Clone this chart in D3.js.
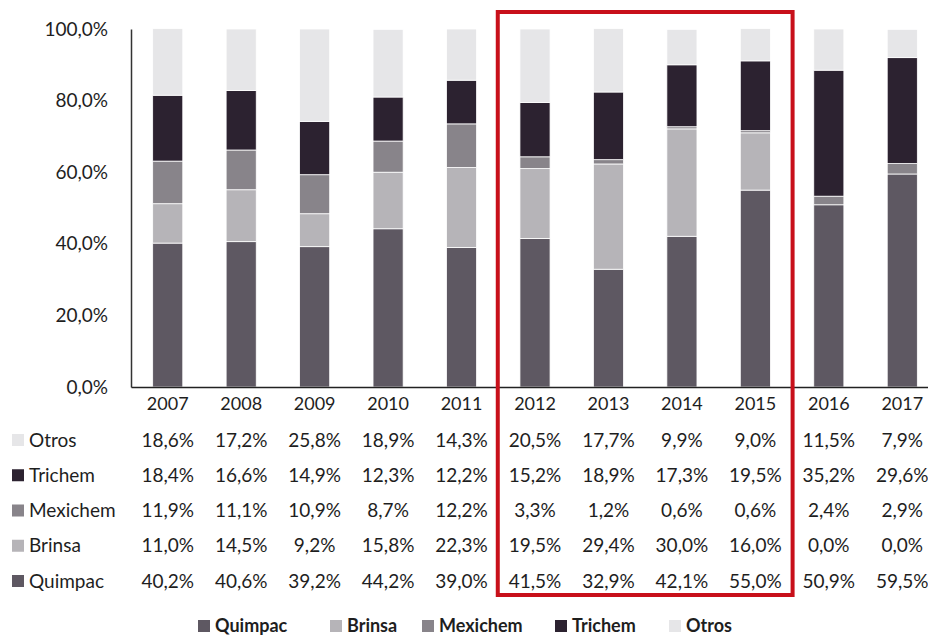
<!DOCTYPE html>
<html>
<head>
<meta charset="utf-8">
<script src="https://cdn.jsdelivr.net/npm/d3@7"></script>
<style>
  body { margin: 0; background: #fff; }
  text { font-family: Lato, "Open Sans", sans-serif; fill: #1e1e1e; }
</style>
</head>
<body>
<div id="chart"></div>
<script>
// data
const years = ["2007", "2008", "2009", "2010", "2011", "2012", "2013", "2014", "2015", "2016", "2017"];
const seriesNames = ["Quimpac", "Brinsa", "Mexichem", "Trichem", "Otros"];
const quimpac  = [40.2, 40.6, 39.2, 44.2, 39.0, 41.5, 32.9, 42.1, 55.0, 50.9, 59.5];
const brinsa   = [11.0, 14.5, 9.2, 15.8, 22.3, 19.5, 29.4, 30.0, 16.0, 0.0, 0.0];
const mexichem = [11.9, 11.1, 10.9, 8.7, 12.2, 3.3, 1.2, 0.6, 0.6, 2.4, 2.9];
const trichem  = [18.4, 16.6, 14.9, 12.3, 12.2, 15.2, 18.9, 17.3, 19.5, 35.2, 29.6];
const otros    = [18.6, 17.2, 25.8, 18.9, 14.3, 20.5, 17.7, 9.9, 9.0, 11.5, 7.9];
const yTicks = [0, 20, 40, 60, 80, 100];
const highlightYears = ["2012", "2015"];

const seriesValues = { Quimpac: quimpac, Brinsa: brinsa, Mexichem: mexichem, Trichem: trichem, Otros: otros };
const colors = { Quimpac: "#5e5862", Brinsa: "#b6b4b8", Mexichem: "#88848a", Trichem: "#2c2230", Otros: "#e6e6e8" };

const W = 928, H = 640;
const plot = { left: 131, right: 939, top: 29, bottom: 387 };

const svg = d3.select("#chart").append("svg")
  .attr("width", W).attr("height", H);

const x = d3.scaleBand()
  .domain(years)
  .range([plot.left, plot.right])
  .paddingInner(0.59)
  .paddingOuter(0.295);

const y = d3.scaleLinear().domain([0, 100]).range([plot.bottom, plot.top]);

const fmt = v => v.toFixed(1).replace(".", ",") + "%";

// stacked bars
const table = years.map((yr, i) => {
  const row = { year: yr };
  seriesNames.forEach(s => row[s] = seriesValues[s][i]);
  return row;
});
const stacked = d3.stack().keys(seriesNames)(table);

svg.append("g")
  .selectAll("g")
  .data(stacked)
  .join("g")
    .attr("fill", d => colors[d.key])
  .selectAll("rect")
  .data(d => d)
  .join("rect")
    .attr("x", d => x(d.data.year))
    .attr("width", x.bandwidth())
    .attr("y", d => y(d[1]))
    .attr("height", d => Math.max(0, y(d[0]) - y(d[1])))
    .attr("stroke", "#fff")
    .attr("stroke-width", 0.8);

// y axis
const yAxis = svg.append("g")
  .attr("transform", `translate(${plot.left},0)`)
  .call(d3.axisLeft(y).tickValues(yTicks).tickSize(0).tickPadding(23)
    .tickFormat(d => fmt(d)));
yAxis.select(".domain").attr("stroke", "#333").attr("stroke-width", 1.5);
yAxis.selectAll("text").style("font-size", "19px").attr("font-family", null);

// x axis
const xAxis = svg.append("g")
  .attr("transform", `translate(0,${plot.bottom})`)
  .call(d3.axisBottom(x).tickSize(0).tickPadding(10));
xAxis.select(".domain").attr("stroke", "#222").attr("stroke-width", 1.5);
xAxis.selectAll("text").style("font-size", "18px").attr("font-family", null);

// data table under the chart
const rowOrder = ["Otros", "Trichem", "Mexichem", "Brinsa", "Quimpac"];
const rowY = d3.scalePoint().domain(rowOrder).range([440, 581]);

const rows = svg.append("g").selectAll("g")
  .data(rowOrder)
  .join("g")
    .attr("transform", d => `translate(0,${rowY(d)})`);

rows.append("rect")
  .attr("x", 12).attr("y", -6).attr("width", 12).attr("height", 12)
  .attr("fill", d => colors[d]);
rows.append("text")
  .attr("x", 29).attr("dy", "0.35em")
  .style("font-size", "19px")
  .text(d => d);
rows.selectAll("text.val")
  .data(d => seriesValues[d].map((v, i) => ({ v, year: years[i] })))
  .join("text")
    .attr("class", "val")
    .attr("x", d => x(d.year) + x.bandwidth() / 2)
    .attr("dy", "0.35em")
    .attr("text-anchor", "middle")
    .style("font-size", "19px")
    .text(d => fmt(d.v));

// red highlight box around 2012-2015
const step = x.step();
const boxLeft = x(highlightYears[0]) - (step - x.bandwidth()) / 2 - 0.5;
const boxRight = x(highlightYears[1]) + x.bandwidth() + (step - x.bandwidth()) / 2 + 0.5;
svg.append("rect")
  .attr("x", boxLeft).attr("y", 12)
  .attr("width", boxRight - boxLeft).attr("height", 583)
  .attr("fill", "none")
  .attr("stroke", "#c8101a")
  .attr("stroke-width", 4);

// legend
const legendX = { Quimpac: 198, Brinsa: 330, Mexichem: 422, Trichem: 555, Otros: 669 };
const legend = svg.append("g").selectAll("g")
  .data(seriesNames)
  .join("g")
    .attr("transform", d => `translate(${legendX[d]},626)`);
legend.append("rect")
  .attr("x", 0).attr("y", -6).attr("width", 12).attr("height", 12)
  .attr("fill", d => colors[d]);
legend.append("text")
  .attr("x", 17).attr("dy", "0.35em")
  .style("font-size", "18px").style("font-weight", "bold")
  .text(d => d);
</script>
</body>
</html>
